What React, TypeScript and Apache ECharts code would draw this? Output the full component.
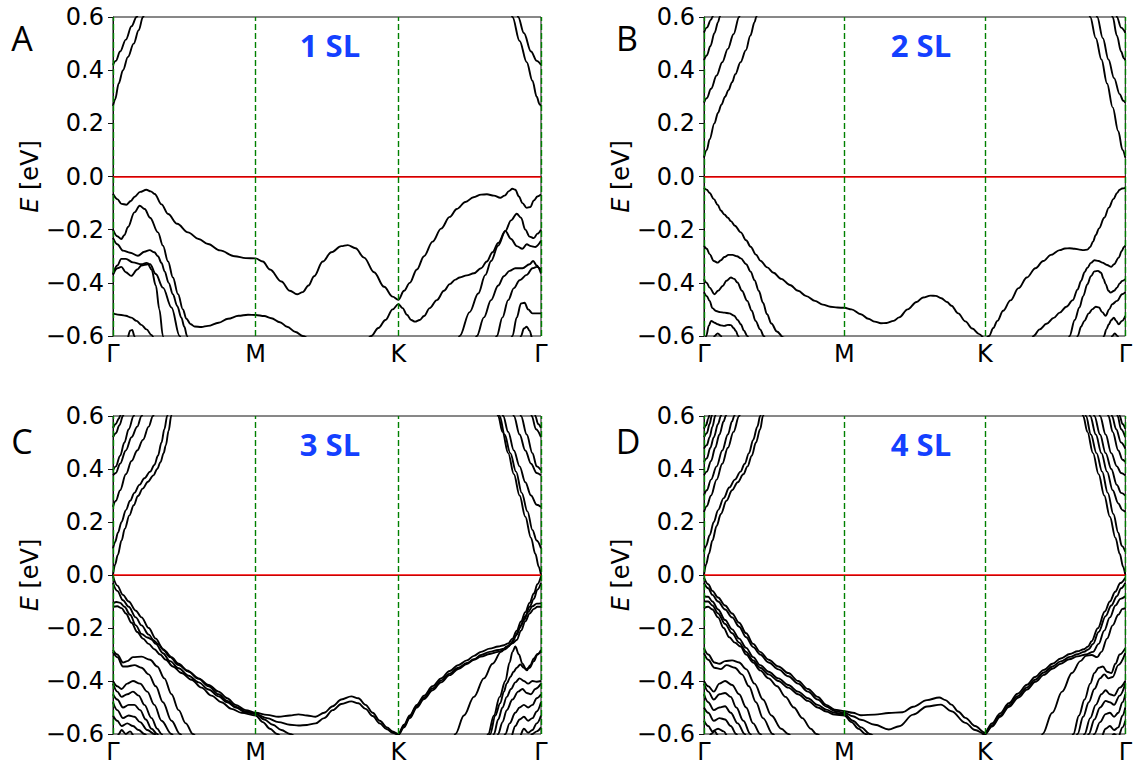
import React, { useEffect, useRef } from "react";
import * as echarts from "echarts";

type Band = number[][];

// Path Γ–M–K–Γ, one unit per segment
const kPathLabels = ["Γ", "M", "K", "Γ"];
const kSymmetryPoints = [0, 1, 2, 3];
const panelLetters = ["A", "B", "C", "D"];
const panelTitles = ["1 SL", "2 SL", "3 SL", "4 SL"];

// ---------- 1 SL ----------
const sl1Conduction: Band[] = [
  [[0, 0.265], [0.015, 0.29], [0.04, 0.35], [0.07, 0.4], [0.105, 0.45], [0.145, 0.5], [0.18, 0.55], [0.21, 0.6], [0.235, 0.64]],
  [[0, 0.42], [0.02, 0.435], [0.05, 0.47], [0.09, 0.515], [0.13, 0.565], [0.165, 0.6], [0.19, 0.63]],
  [[2.78, 0.64], [2.8, 0.6], [2.85, 0.51], [2.9, 0.43], [2.94, 0.36], [2.97, 0.3], [2.99, 0.272], [3, 0.265]],
  [[2.82, 0.64], [2.84, 0.6], [2.88, 0.54], [2.93, 0.47], [2.97, 0.435], [3, 0.42]],
];

const sl1Valence: Band[] = [
  [[0, -0.065], [0.03, -0.085], [0.06, -0.103], [0.093, -0.106], [0.125, -0.092], [0.152, -0.076], [0.19, -0.058], [0.234, -0.05], [0.265, -0.056], [0.292, -0.066], [0.34, -0.105], [0.386, -0.141], [0.45, -0.178], [0.526, -0.21], [0.6, -0.235], [0.666, -0.254], [0.75, -0.278], [0.853, -0.3], [0.93, -0.307], [1, -0.308], [1.05, -0.32], [1.1, -0.35], [1.18, -0.395], [1.24, -0.43], [1.29, -0.443], [1.33, -0.435], [1.37, -0.41], [1.41, -0.375], [1.47, -0.32], [1.53, -0.285], [1.6, -0.262], [1.645, -0.258], [1.7, -0.27], [1.76, -0.305], [1.83, -0.36], [1.9, -0.415], [1.96, -0.452], [2, -0.464], [2.04, -0.43], [2.08, -0.4], [2.13, -0.35], [2.18, -0.3], [2.24, -0.245], [2.3, -0.196], [2.36, -0.152], [2.41, -0.122], [2.47, -0.096], [2.527, -0.078], [2.58, -0.068], [2.621, -0.067], [2.67, -0.072], [2.714, -0.08], [2.745, -0.072], [2.775, -0.055], [2.8, -0.046], [2.82, -0.05], [2.845, -0.075], [2.87, -0.1], [2.9, -0.118], [2.925, -0.115], [2.95, -0.09], [2.975, -0.075], [3, -0.068]],
  [[0, -0.2], [0.03, -0.225], [0.058, -0.235], [0.08, -0.22], [0.105, -0.19], [0.15, -0.135], [0.187, -0.11], [0.222, -0.122], [0.26, -0.155], [0.315, -0.21], [0.35, -0.26], [0.386, -0.32], [0.42, -0.38], [0.456, -0.443], [0.49, -0.5], [0.514, -0.535], [0.545, -0.556], [0.572, -0.564], [0.62, -0.566], [0.666, -0.562], [0.74, -0.55], [0.806, -0.535], [0.88, -0.524], [0.946, -0.52], [1, -0.521], [1.06, -0.525], [1.11, -0.533], [1.17, -0.548], [1.22, -0.565], [1.28, -0.585], [1.33, -0.6], [1.4, -0.62], [1.5, -0.64], [1.6, -0.65], [1.7, -0.64], [1.76, -0.625], [1.81, -0.6], [1.86, -0.57], [1.91, -0.54], [1.96, -0.5], [2, -0.48], [2.03, -0.495], [2.06, -0.52], [2.09, -0.54], [2.117, -0.546], [2.15, -0.54], [2.18, -0.525], [2.22, -0.495], [2.27, -0.465], [2.32, -0.43], [2.36, -0.405], [2.4, -0.388], [2.43, -0.38], [2.48, -0.372], [2.53, -0.364], [2.58, -0.345], [2.62, -0.32], [2.66, -0.285], [2.7, -0.25], [2.75, -0.205], [2.79, -0.165], [2.83, -0.14], [2.86, -0.155], [2.89, -0.2], [2.92, -0.226], [2.95, -0.232], [2.975, -0.215], [3, -0.2]],
  [[2.4, -0.65], [2.43, -0.6], [2.5, -0.51], [2.56, -0.44], [2.61, -0.37], [2.65, -0.318], [2.7, -0.26], [2.75, -0.205], [2.79, -0.235], [2.83, -0.262], [2.87, -0.272], [2.9, -0.255], [2.93, -0.262], [2.96, -0.265], [3, -0.242]],
  [[2.52, -0.65], [2.55, -0.6], [2.6, -0.53], [2.65, -0.465], [2.7, -0.41], [2.74, -0.375], [2.78, -0.355], [2.82, -0.345], [2.87, -0.345], [2.92, -0.33], [2.945, -0.318], [2.97, -0.335], [3, -0.365]],
  [[2.66, -0.65], [2.69, -0.6], [2.73, -0.53], [2.77, -0.465], [2.81, -0.42], [2.85, -0.39], [2.9, -0.37], [2.94, -0.345], [2.97, -0.34], [3, -0.35]],
  [[2.77, -0.65], [2.8, -0.6], [2.83, -0.53], [2.86, -0.478], [2.885, -0.475], [2.91, -0.5], [2.94, -0.515], [2.97, -0.515], [3, -0.515]],
  [[2.84, -0.65], [2.86, -0.6], [2.88, -0.572], [2.9, -0.565], [2.92, -0.58], [2.94, -0.61], [2.96, -0.65]],
  [[0, -0.231], [0.03, -0.255], [0.07, -0.279], [0.12, -0.287], [0.175, -0.298], [0.22, -0.283], [0.257, -0.277], [0.29, -0.285], [0.315, -0.3], [0.34, -0.325], [0.362, -0.357], [0.39, -0.4], [0.42, -0.443], [0.45, -0.487], [0.479, -0.531], [0.5, -0.565], [0.519, -0.6], [0.535, -0.64]],
  [[0, -0.367], [0.03, -0.335], [0.058, -0.31], [0.09, -0.31], [0.14, -0.323], [0.2, -0.33], [0.235, -0.325], [0.26, -0.33], [0.3, -0.367], [0.35, -0.418], [0.41, -0.493], [0.467, -0.6], [0.49, -0.64]],
  [[0, -0.37], [0.03, -0.345], [0.058, -0.34], [0.09, -0.36], [0.128, -0.374], [0.17, -0.35], [0.199, -0.335], [0.245, -0.33], [0.27, -0.35], [0.3, -0.41], [0.325, -0.5], [0.35, -0.6], [0.36, -0.64]],
  [[0, -0.516], [0.058, -0.521], [0.09, -0.524], [0.128, -0.531], [0.165, -0.543], [0.199, -0.558], [0.235, -0.575], [0.269, -0.596], [0.3, -0.62], [0.33, -0.65]],
  [[0.08, -0.65], [0.1, -0.61], [0.12, -0.58], [0.135, -0.577], [0.15, -0.6], [0.165, -0.65]],
];

// ---------- 2 SL ----------
const sl2Conduction: Band[] = [
  [[0, 0.071], [0.02, 0.1], [0.04, 0.14], [0.074, 0.2], [0.1, 0.24], [0.124, 0.27], [0.15, 0.3], [0.174, 0.325], [0.2, 0.355], [0.223, 0.385], [0.26, 0.43], [0.298, 0.475], [0.33, 0.53], [0.36, 0.58], [0.372, 0.6], [0.39, 0.64]],
  [[0, 0.278], [0.02, 0.295], [0.05, 0.33], [0.09, 0.38], [0.13, 0.43], [0.17, 0.48], [0.21, 0.535], [0.25, 0.6], [0.27, 0.64]],
  [[0, 0.437], [0.02, 0.455], [0.045, 0.49], [0.075, 0.54], [0.1, 0.58], [0.112, 0.6], [0.125, 0.63]],
  [[0, 0.541], [0.02, 0.56], [0.05, 0.59], [0.06, 0.6], [0.075, 0.63]],
  [[2.73, 0.64], [2.75, 0.6], [2.79, 0.52], [2.83, 0.44], [2.87, 0.35], [2.91, 0.26], [2.95, 0.17], [2.98, 0.1], [3, 0.071]],
  [[2.78, 0.64], [2.8, 0.6], [2.84, 0.52], [2.88, 0.44], [2.92, 0.37], [2.96, 0.31], [2.985, 0.285], [3, 0.278]],
  [[2.89, 0.64], [2.91, 0.6], [2.94, 0.53], [2.97, 0.47], [2.99, 0.445], [3, 0.437]],
  [[2.925, 0.64], [2.94, 0.6], [2.97, 0.56], [3, 0.541]],
];

const sl2Valence: Band[] = [
  [[0, -0.043], [0.02, -0.05], [0.04, -0.062], [0.07, -0.085], [0.098, -0.107], [0.12, -0.128], [0.145, -0.143], [0.17, -0.155], [0.192, -0.168], [0.22, -0.185], [0.262, -0.21], [0.3, -0.24], [0.332, -0.264], [0.37, -0.294], [0.402, -0.317], [0.45, -0.342], [0.495, -0.362], [0.55, -0.385], [0.612, -0.408], [0.67, -0.43], [0.729, -0.45], [0.79, -0.468], [0.846, -0.482], [0.9, -0.49], [0.95, -0.493], [1, -0.494], [1.05, -0.5], [1.117, -0.518], [1.17, -0.535], [1.216, -0.546], [1.26, -0.552], [1.3, -0.551], [1.35, -0.543], [1.39, -0.53], [1.45, -0.5], [1.514, -0.472], [1.56, -0.455], [1.613, -0.448], [1.65, -0.449], [1.69, -0.458], [1.73, -0.472], [1.762, -0.486], [1.81, -0.515], [1.861, -0.545], [1.91, -0.572], [1.96, -0.593], [2, -0.61], [2.03, -0.6], [2.06, -0.57], [2.089, -0.543], [2.13, -0.505], [2.182, -0.466], [2.24, -0.42], [2.299, -0.38], [2.36, -0.345], [2.416, -0.318], [2.47, -0.295], [2.533, -0.277], [2.57, -0.271], [2.603, -0.27], [2.64, -0.272], [2.673, -0.275], [2.7, -0.277], [2.73, -0.275], [2.75, -0.265], [2.77, -0.245], [2.79, -0.22], [2.813, -0.195], [2.85, -0.155], [2.883, -0.117], [2.915, -0.085], [2.941, -0.062], [2.96, -0.05], [2.977, -0.045], [3, -0.043]],
  [[0, -0.26], [0.02, -0.272], [0.04, -0.292], [0.07, -0.318], [0.098, -0.324], [0.12, -0.315], [0.145, -0.303], [0.175, -0.295], [0.203, -0.295], [0.235, -0.3], [0.262, -0.308], [0.3, -0.33], [0.332, -0.358], [0.36, -0.39], [0.39, -0.43], [0.42, -0.475], [0.449, -0.518], [0.48, -0.553], [0.519, -0.583], [0.565, -0.605], [0.6, -0.63]],
  [[0, -0.386], [0.02, -0.4], [0.04, -0.418], [0.075, -0.443], [0.1, -0.43], [0.133, -0.412], [0.16, -0.392], [0.192, -0.38], [0.215, -0.385], [0.238, -0.399], [0.27, -0.43], [0.308, -0.468], [0.34, -0.505], [0.367, -0.543], [0.4, -0.575], [0.425, -0.6], [0.45, -0.63]],
  [[0, -0.435], [0.02, -0.45], [0.04, -0.468], [0.06, -0.495], [0.086, -0.506], [0.115, -0.51], [0.145, -0.512], [0.18, -0.515], [0.215, -0.524], [0.24, -0.54], [0.262, -0.556], [0.285, -0.58], [0.308, -0.6], [0.33, -0.63]],
  [[0, -0.64], [0.016, -0.6], [0.035, -0.56], [0.051, -0.543], [0.075, -0.55], [0.098, -0.556], [0.12, -0.56], [0.145, -0.562], [0.17, -0.558], [0.192, -0.559], [0.21, -0.57], [0.227, -0.581], [0.243, -0.6], [0.26, -0.63]],
  [[0.06, -0.63], [0.075, -0.6], [0.098, -0.59], [0.121, -0.6], [0.135, -0.63]],
  [[2.32, -0.64], [2.346, -0.6], [2.39, -0.575], [2.439, -0.554], [2.49, -0.532], [2.533, -0.512], [2.58, -0.49], [2.626, -0.465], [2.66, -0.425], [2.685, -0.393], [2.71, -0.36], [2.73, -0.343], [2.755, -0.325], [2.78, -0.315], [2.81, -0.318], [2.836, -0.324], [2.87, -0.333], [2.9, -0.34], [2.92, -0.33], [2.953, -0.305], [2.975, -0.28], [2.99, -0.265], [3, -0.26]],
  [[2.58, -0.65], [2.603, -0.6], [2.64, -0.54], [2.673, -0.493], [2.7, -0.45], [2.73, -0.405], [2.755, -0.375], [2.78, -0.357], [2.805, -0.355], [2.827, -0.362], [2.845, -0.385], [2.86, -0.405], [2.88, -0.43], [2.895, -0.437], [2.92, -0.43], [2.941, -0.418], [2.96, -0.402], [2.977, -0.393], [3, -0.386]],
  [[2.64, -0.65], [2.661, -0.6], [2.685, -0.565], [2.708, -0.543], [2.74, -0.515], [2.766, -0.499], [2.79, -0.49], [2.813, -0.493], [2.835, -0.51], [2.86, -0.524], [2.885, -0.5], [2.907, -0.48], [2.941, -0.468], [2.977, -0.443], [3, -0.435]],
  [[2.83, -0.64], [2.848, -0.6], [2.865, -0.575], [2.883, -0.556], [2.9, -0.54], [2.918, -0.531], [2.935, -0.543], [2.953, -0.556], [2.977, -0.543], [3, -0.524]],
  [[2.89, -0.63], [2.907, -0.6], [2.925, -0.59], [2.945, -0.6], [2.96, -0.63]],
];

// ---------- 3 SL ----------
const sl3Conduction: Band[] = [
  [[0, 0], [0.015, 0.04], [0.033, 0.075], [0.06, 0.13], [0.083, 0.175], [0.115, 0.225], [0.145, 0.263], [0.175, 0.298], [0.208, 0.326], [0.245, 0.352], [0.283, 0.376], [0.31, 0.4], [0.333, 0.426], [0.355, 0.46], [0.37, 0.489], [0.39, 0.545], [0.408, 0.6], [0.42, 0.64]],
  [[0, 0.1], [0.015, 0.125], [0.035, 0.16], [0.06, 0.2], [0.09, 0.245], [0.12, 0.28], [0.15, 0.31], [0.185, 0.34], [0.22, 0.365], [0.26, 0.39], [0.29, 0.415], [0.315, 0.45], [0.34, 0.5], [0.36, 0.55], [0.38, 0.6], [0.395, 0.64]],
  [[0, 0.257], [0.02, 0.28], [0.05, 0.32], [0.09, 0.38], [0.13, 0.43], [0.17, 0.47], [0.21, 0.51], [0.25, 0.56], [0.28, 0.6], [0.3, 0.63]],
  [[0, 0.376], [0.02, 0.385], [0.05, 0.42], [0.09, 0.47], [0.13, 0.52], [0.17, 0.56], [0.2, 0.6], [0.22, 0.63]],
  [[0, 0.395], [0.02, 0.41], [0.05, 0.45], [0.08, 0.5], [0.11, 0.55], [0.145, 0.6], [0.16, 0.63]],
  [[0, 0.52], [0.02, 0.535], [0.045, 0.565], [0.07, 0.6], [0.085, 0.63]],
  [[0, 0.555], [0.02, 0.57], [0.04, 0.59], [0.05, 0.6], [0.065, 0.63]],
  [[2.68, 0.64], [2.7, 0.6], [2.73, 0.54], [2.77, 0.46], [2.81, 0.38], [2.85, 0.3], [2.89, 0.22], [2.93, 0.14], [2.96, 0.08], [2.985, 0.03], [3, 0]],
  [[2.69, 0.64], [2.71, 0.6], [2.745, 0.53], [2.785, 0.46], [2.825, 0.39], [2.865, 0.31], [2.905, 0.24], [2.94, 0.17], [2.97, 0.13], [3, 0.1]],
  [[2.715, 0.64], [2.735, 0.6], [2.77, 0.54], [2.81, 0.47], [2.85, 0.41], [2.89, 0.35], [2.93, 0.3], [2.97, 0.265], [3, 0.257]],
  [[2.79, 0.64], [2.81, 0.6], [2.85, 0.53], [2.89, 0.47], [2.93, 0.42], [2.97, 0.385], [3, 0.376]],
  [[2.84, 0.64], [2.86, 0.6], [2.9, 0.53], [2.94, 0.46], [2.97, 0.41], [3, 0.395]],
  [[2.92, 0.64], [2.935, 0.6], [2.965, 0.55], [3, 0.52]],
  [[2.95, 0.64], [2.96, 0.6], [2.98, 0.57], [3, 0.555]],
];

const sl3Valence: Band[] = [
  [[0, -0.005], [0.03, -0.04], [0.07, -0.075], [0.11, -0.1], [0.16, -0.135], [0.2, -0.16], [0.25, -0.2], [0.3, -0.24], [0.35, -0.28], [0.4, -0.31], [0.46, -0.34], [0.53, -0.365], [0.6, -0.39], [0.67, -0.415], [0.74, -0.44], [0.8, -0.465], [0.86, -0.49], [0.93, -0.51], [1, -0.52], [1.08, -0.528], [1.16, -0.535], [1.24, -0.53], [1.3, -0.526], [1.36, -0.53], [1.42, -0.535], [1.48, -0.52], [1.54, -0.495], [1.6, -0.47], [1.67, -0.458], [1.72, -0.465], [1.77, -0.49], [1.82, -0.52], [1.87, -0.55], [1.92, -0.575], [1.96, -0.59], [2, -0.6], [2.04, -0.565], [2.08, -0.53], [2.13, -0.49], [2.18, -0.455], [2.24, -0.42], [2.3, -0.39], [2.36, -0.362], [2.42, -0.34], [2.48, -0.322], [2.53, -0.305], [2.58, -0.29], [2.64, -0.278], [2.7, -0.27], [2.74, -0.265], [2.77, -0.258], [2.8, -0.24], [2.83, -0.21], [2.86, -0.175], [2.89, -0.14], [2.92, -0.105], [2.95, -0.07], [2.975, -0.035], [3, -0.005]],
  [[0, -0.03], [0.03, -0.06], [0.07, -0.095], [0.11, -0.12], [0.16, -0.16], [0.2, -0.19], [0.25, -0.225], [0.3, -0.26], [0.35, -0.295], [0.4, -0.325], [0.46, -0.352], [0.53, -0.38], [0.6, -0.405], [0.67, -0.432], [0.74, -0.458], [0.8, -0.48], [0.86, -0.5], [0.93, -0.518], [1, -0.525], [1.08, -0.54], [1.16, -0.555], [1.24, -0.565], [1.3, -0.568], [1.36, -0.566], [1.42, -0.56], [1.48, -0.54], [1.54, -0.51], [1.6, -0.487], [1.67, -0.477], [1.72, -0.484], [1.77, -0.505], [1.82, -0.532], [1.87, -0.56], [1.92, -0.582], [1.96, -0.595], [2, -0.602], [2.04, -0.57], [2.08, -0.535], [2.13, -0.495], [2.18, -0.462], [2.24, -0.428], [2.3, -0.398], [2.36, -0.372], [2.42, -0.35], [2.48, -0.332], [2.53, -0.318], [2.58, -0.302], [2.64, -0.29], [2.7, -0.283], [2.74, -0.278], [2.77, -0.27], [2.8, -0.252], [2.83, -0.225], [2.86, -0.19], [2.89, -0.155], [2.92, -0.12], [2.95, -0.09], [2.975, -0.055], [3, -0.03]],
  [[0, -0.107], [0.025, -0.102], [0.05, -0.105], [0.08, -0.12], [0.12, -0.15], [0.16, -0.19], [0.2, -0.222], [0.24, -0.236], [0.28, -0.245], [0.32, -0.262], [0.36, -0.285], [0.41, -0.31], [0.46, -0.335], [0.52, -0.36], [0.6, -0.392], [0.67, -0.42], [0.74, -0.45], [0.8, -0.475], [0.86, -0.497], [0.93, -0.515], [1, -0.523], [1.06, -0.545], [1.12, -0.565], [1.18, -0.585], [1.24, -0.6], [1.3, -0.615], [1.4, -0.63], [1.5, -0.64], [1.6, -0.645], [1.7, -0.645], [1.8, -0.635], [1.9, -0.62], [1.96, -0.61], [2, -0.603], [2.04, -0.575], [2.08, -0.54], [2.13, -0.5], [2.18, -0.468], [2.24, -0.435], [2.3, -0.405], [2.36, -0.378], [2.42, -0.355], [2.48, -0.336], [2.53, -0.32], [2.58, -0.308], [2.64, -0.298], [2.7, -0.29], [2.75, -0.28], [2.79, -0.26], [2.82, -0.23], [2.85, -0.2], [2.88, -0.17], [2.91, -0.14], [2.94, -0.118], [2.97, -0.108], [3, -0.107]],
  [[0, -0.12], [0.03, -0.118], [0.06, -0.125], [0.09, -0.145], [0.13, -0.18], [0.17, -0.215], [0.21, -0.24], [0.25, -0.26], [0.29, -0.28], [0.33, -0.3], [0.37, -0.32], [0.42, -0.345], [0.48, -0.37], [0.55, -0.395], [0.62, -0.425], [0.69, -0.455], [0.76, -0.48], [0.83, -0.505], [0.9, -0.52], [1, -0.53], [1.05, -0.555], [1.1, -0.58], [1.15, -0.6], [1.2, -0.62], [1.25, -0.64]],
  [[2.37, -0.65], [2.4, -0.6], [2.46, -0.53], [2.53, -0.46], [2.6, -0.39], [2.66, -0.335], [2.72, -0.29], [2.76, -0.27], [2.8, -0.258], [2.83, -0.245], [2.86, -0.21], [2.89, -0.175], [2.92, -0.145], [2.95, -0.128], [2.975, -0.12], [3, -0.12]],
  [[2.6, -0.65], [2.63, -0.6], [2.67, -0.53], [2.71, -0.46], [2.75, -0.4], [2.78, -0.33], [2.8, -0.29], [2.82, -0.27], [2.845, -0.3], [2.87, -0.335], [2.895, -0.355], [2.92, -0.35], [2.95, -0.325], [2.975, -0.3], [3, -0.283]],
  [[2.62, -0.65], [2.644, -0.6], [2.68, -0.53], [2.714, -0.484], [2.74, -0.44], [2.76, -0.409], [2.785, -0.385], [2.808, -0.365], [2.83, -0.35], [2.855, -0.338], [2.88, -0.35], [2.9, -0.36], [2.925, -0.34], [2.95, -0.315], [2.975, -0.298], [3, -0.29]],
  [[2.65, -0.65], [2.67, -0.6], [2.7, -0.545], [2.73, -0.5], [2.76, -0.46], [2.79, -0.43], [2.82, -0.405], [2.85, -0.39], [2.88, -0.4], [2.91, -0.41], [2.94, -0.4], [2.97, -0.403], [3, -0.4]],
  [[2.68, -0.65], [2.7, -0.6], [2.73, -0.555], [2.76, -0.51], [2.8, -0.47], [2.84, -0.44], [2.87, -0.43], [2.9, -0.445], [2.93, -0.45], [2.96, -0.43], [3, -0.41]],
  [[2.72, -0.65], [2.75, -0.6], [2.78, -0.56], [2.82, -0.52], [2.85, -0.5], [2.88, -0.49], [2.91, -0.5], [2.94, -0.49], [2.97, -0.465], [3, -0.45]],
  [[2.76, -0.65], [2.79, -0.61], [2.82, -0.57], [2.85, -0.545], [2.88, -0.535], [2.91, -0.55], [2.94, -0.54], [2.97, -0.515], [3, -0.48]],
  [[2.82, -0.65], [2.85, -0.61], [2.88, -0.58], [2.91, -0.595], [2.94, -0.585], [2.97, -0.56], [3, -0.53]],
  [[2.88, -0.65], [2.91, -0.62], [2.94, -0.6], [2.97, -0.59], [3, -0.575]],
  [[0, -0.283], [0.03, -0.3], [0.07, -0.33], [0.1, -0.325], [0.14, -0.31], [0.2, -0.308], [0.26, -0.32], [0.31, -0.345], [0.36, -0.39], [0.41, -0.45], [0.46, -0.51], [0.51, -0.56], [0.56, -0.6], [0.6, -0.63]],
  [[0, -0.29], [0.03, -0.31], [0.07, -0.345], [0.1, -0.345], [0.15, -0.34], [0.2, -0.35], [0.25, -0.375], [0.3, -0.42], [0.35, -0.48], [0.41, -0.55], [0.47, -0.6], [0.5, -0.63]],
  [[0, -0.4], [0.03, -0.42], [0.06, -0.43], [0.1, -0.41], [0.14, -0.4], [0.19, -0.41], [0.24, -0.44], [0.29, -0.49], [0.34, -0.55], [0.41, -0.6], [0.44, -0.63]],
  [[0, -0.41], [0.03, -0.44], [0.06, -0.46], [0.1, -0.45], [0.14, -0.44], [0.18, -0.455], [0.22, -0.49], [0.27, -0.54], [0.31, -0.58], [0.34, -0.6], [0.36, -0.63]],
  [[0, -0.45], [0.03, -0.47], [0.07, -0.5], [0.11, -0.49], [0.15, -0.49], [0.19, -0.51], [0.23, -0.545], [0.27, -0.58], [0.31, -0.6], [0.33, -0.63]],
  [[0, -0.48], [0.03, -0.51], [0.07, -0.54], [0.11, -0.53], [0.15, -0.535], [0.19, -0.555], [0.24, -0.585], [0.29, -0.6], [0.31, -0.62]],
  [[0, -0.53], [0.03, -0.55], [0.06, -0.57], [0.1, -0.56], [0.14, -0.57], [0.18, -0.585], [0.22, -0.6], [0.25, -0.62]],
  [[0.02, -0.64], [0.04, -0.6], [0.06, -0.585], [0.09, -0.6], [0.12, -0.59], [0.15, -0.61], [0.17, -0.64]],
];

// ---------- 4 SL ----------
const sl4Conduction: Band[] = [
  [[0, 0], [0.015, 0.04], [0.035, 0.08], [0.06, 0.13], [0.09, 0.185], [0.12, 0.23], [0.16, 0.28], [0.2, 0.32], [0.24, 0.35], [0.28, 0.38], [0.31, 0.41], [0.34, 0.45], [0.37, 0.5], [0.4, 0.55], [0.42, 0.6], [0.44, 0.64]],
  [[0, 0.088], [0.015, 0.11], [0.04, 0.15], [0.07, 0.2], [0.1, 0.245], [0.14, 0.29], [0.18, 0.33], [0.22, 0.36], [0.26, 0.39], [0.29, 0.42], [0.32, 0.46], [0.35, 0.51], [0.38, 0.56], [0.4, 0.6], [0.42, 0.64]],
  [[0, 0.238], [0.02, 0.26], [0.05, 0.3], [0.09, 0.36], [0.13, 0.42], [0.17, 0.48], [0.21, 0.54], [0.25, 0.6], [0.27, 0.63]],
  [[0, 0.3], [0.02, 0.32], [0.05, 0.36], [0.09, 0.41], [0.13, 0.47], [0.17, 0.53], [0.2, 0.58], [0.215, 0.6], [0.23, 0.63]],
  [[0, 0.376], [0.02, 0.39], [0.05, 0.43], [0.08, 0.48], [0.11, 0.53], [0.14, 0.58], [0.155, 0.6], [0.17, 0.63]],
  [[0, 0.427], [0.02, 0.44], [0.045, 0.48], [0.07, 0.52], [0.1, 0.57], [0.12, 0.6], [0.135, 0.63]],
  [[0, 0.477], [0.02, 0.49], [0.04, 0.52], [0.06, 0.56], [0.08, 0.6], [0.09, 0.63]],
  [[0, 0.52], [0.02, 0.535], [0.04, 0.57], [0.055, 0.6], [0.065, 0.63]],
  [[0, 0.552], [0.015, 0.565], [0.03, 0.59], [0.037, 0.6], [0.05, 0.63]],
  [[2.68, 0.64], [2.7, 0.6], [2.73, 0.54], [2.77, 0.46], [2.81, 0.38], [2.85, 0.3], [2.89, 0.22], [2.93, 0.14], [2.96, 0.08], [2.985, 0.03], [3, 0]],
  [[2.7, 0.64], [2.72, 0.6], [2.755, 0.53], [2.795, 0.46], [2.835, 0.39], [2.875, 0.31], [2.915, 0.23], [2.95, 0.16], [2.975, 0.11], [3, 0.088]],
  [[2.73, 0.64], [2.75, 0.6], [2.79, 0.53], [2.83, 0.46], [2.87, 0.39], [2.91, 0.32], [2.95, 0.27], [2.98, 0.245], [3, 0.238]],
  [[2.76, 0.64], [2.78, 0.6], [2.82, 0.53], [2.86, 0.46], [2.9, 0.4], [2.94, 0.34], [2.97, 0.31], [3, 0.3]],
  [[2.8, 0.64], [2.82, 0.6], [2.86, 0.53], [2.9, 0.46], [2.94, 0.41], [2.97, 0.385], [3, 0.376]],
  [[2.86, 0.64], [2.88, 0.6], [2.91, 0.54], [2.95, 0.47], [2.98, 0.435], [3, 0.427]],
  [[2.89, 0.64], [2.905, 0.6], [2.935, 0.55], [2.97, 0.5], [3, 0.477]],
  [[2.93, 0.64], [2.945, 0.6], [2.97, 0.55], [3, 0.52]],
  [[2.95, 0.64], [2.96, 0.6], [2.98, 0.57], [3, 0.552]],
];

const sl4Valence: Band[] = [
  [[0, -0.01], [0.03, -0.035], [0.06, -0.06], [0.1, -0.085], [0.15, -0.115], [0.2, -0.145], [0.25, -0.18], [0.3, -0.22], [0.35, -0.26], [0.4, -0.29], [0.46, -0.32], [0.53, -0.345], [0.6, -0.37], [0.67, -0.4], [0.74, -0.43], [0.81, -0.46], [0.87, -0.49], [0.93, -0.508], [1, -0.514], [1.06, -0.52], [1.117, -0.529], [1.216, -0.527], [1.315, -0.521], [1.414, -0.518], [1.489, -0.497], [1.588, -0.472], [1.675, -0.462], [1.72, -0.472], [1.762, -0.489], [1.81, -0.515], [1.861, -0.539], [1.93, -0.57], [2, -0.595], [2.05, -0.56], [2.109, -0.522], [2.17, -0.484], [2.233, -0.448], [2.3, -0.414], [2.357, -0.385], [2.42, -0.358], [2.481, -0.335], [2.54, -0.315], [2.605, -0.298], [2.66, -0.288], [2.705, -0.28], [2.735, -0.27], [2.76, -0.25], [2.804, -0.201], [2.854, -0.138], [2.89, -0.1], [2.928, -0.063], [2.965, -0.03], [3, -0.01]],
  [[0, -0.03], [0.03, -0.05], [0.06, -0.075], [0.1, -0.1], [0.15, -0.13], [0.2, -0.16], [0.25, -0.195], [0.3, -0.235], [0.35, -0.272], [0.4, -0.3], [0.46, -0.33], [0.53, -0.356], [0.6, -0.382], [0.67, -0.41], [0.74, -0.44], [0.81, -0.47], [0.87, -0.496], [0.93, -0.513], [1, -0.52], [1.06, -0.533], [1.117, -0.546], [1.216, -0.565], [1.315, -0.583], [1.39, -0.571], [1.489, -0.527], [1.588, -0.496], [1.687, -0.489], [1.762, -0.514], [1.861, -0.558], [1.93, -0.585], [2, -0.6], [2.05, -0.567], [2.109, -0.53], [2.17, -0.492], [2.233, -0.457], [2.3, -0.424], [2.357, -0.395], [2.42, -0.368], [2.481, -0.345], [2.54, -0.326], [2.605, -0.309], [2.66, -0.299], [2.705, -0.29], [2.74, -0.28], [2.77, -0.26], [2.81, -0.215], [2.86, -0.155], [2.9, -0.115], [2.94, -0.08], [2.97, -0.05], [3, -0.03]],
  [[0, -0.08], [0.03, -0.082], [0.06, -0.1], [0.1, -0.13], [0.15, -0.17], [0.2, -0.205], [0.25, -0.24], [0.3, -0.275], [0.35, -0.31], [0.4, -0.34], [0.46, -0.365], [0.53, -0.39], [0.6, -0.415], [0.67, -0.44], [0.74, -0.465], [0.81, -0.49], [0.87, -0.508], [0.93, -0.52], [1, -0.525], [1.06, -0.55], [1.12, -0.575], [1.18, -0.6], [1.25, -0.625], [1.35, -0.645], [1.5, -0.65], [1.65, -0.65], [1.8, -0.64], [1.9, -0.625], [1.96, -0.61], [2, -0.602], [2.05, -0.572], [2.11, -0.535], [2.17, -0.498], [2.24, -0.462], [2.3, -0.432], [2.36, -0.403], [2.42, -0.377], [2.48, -0.354], [2.54, -0.335], [2.6, -0.318], [2.66, -0.307], [2.72, -0.3], [2.77, -0.29], [2.81, -0.26], [2.85, -0.21], [2.89, -0.16], [2.93, -0.115], [2.965, -0.09], [3, -0.08]],
  [[0, -0.1], [0.03, -0.1], [0.06, -0.115], [0.1, -0.145], [0.15, -0.185], [0.2, -0.22], [0.25, -0.255], [0.3, -0.29], [0.35, -0.322], [0.4, -0.35], [0.46, -0.375], [0.53, -0.4], [0.6, -0.425], [0.67, -0.45], [0.74, -0.475], [0.81, -0.5], [0.87, -0.515], [0.93, -0.527], [1, -0.53], [1.05, -0.555], [1.1, -0.58], [1.15, -0.6], [1.2, -0.625], [1.25, -0.645]],
  [[0, -0.125], [0.03, -0.12], [0.06, -0.13], [0.1, -0.16], [0.14, -0.2], [0.18, -0.235], [0.22, -0.255], [0.26, -0.27], [0.3, -0.3], [0.35, -0.33], [0.4, -0.36], [0.46, -0.39], [0.52, -0.42], [0.58, -0.46], [0.64, -0.5], [0.7, -0.54], [0.76, -0.58], [0.8, -0.6], [0.86, -0.63]],
  [[2.39, -0.65], [2.41, -0.6], [2.48, -0.52], [2.55, -0.44], [2.62, -0.37], [2.68, -0.325], [2.72, -0.305], [2.76, -0.302], [2.8, -0.31], [2.83, -0.29], [2.87, -0.24], [2.91, -0.19], [2.95, -0.15], [2.98, -0.128], [3, -0.125]],
  [[2.6, -0.65], [2.63, -0.6], [2.67, -0.53], [2.71, -0.47], [2.75, -0.41], [2.78, -0.37], [2.81, -0.35], [2.84, -0.345], [2.87, -0.365], [2.9, -0.37], [2.93, -0.335], [2.96, -0.3], [3, -0.276]],
  [[2.63, -0.65], [2.66, -0.6], [2.7, -0.535], [2.74, -0.48], [2.78, -0.43], [2.82, -0.39], [2.85, -0.375], [2.88, -0.39], [2.91, -0.385], [2.95, -0.34], [3, -0.295]],
  [[2.68, -0.65], [2.71, -0.6], [2.75, -0.54], [2.79, -0.49], [2.83, -0.45], [2.86, -0.435], [2.89, -0.45], [2.92, -0.455], [2.96, -0.425], [3, -0.4]],
  [[2.71, -0.65], [2.74, -0.6], [2.78, -0.545], [2.82, -0.5], [2.86, -0.475], [2.89, -0.48], [2.92, -0.49], [2.96, -0.455], [3, -0.41]],
  [[2.75, -0.65], [2.78, -0.6], [2.82, -0.555], [2.86, -0.525], [2.89, -0.52], [2.92, -0.535], [2.95, -0.52], [2.98, -0.48], [3, -0.45]],
  [[2.8, -0.65], [2.83, -0.61], [2.86, -0.58], [2.89, -0.57], [2.92, -0.585], [2.95, -0.575], [2.98, -0.53], [3, -0.5]],
  [[2.86, -0.65], [2.89, -0.615], [2.92, -0.6], [2.95, -0.61], [2.98, -0.575], [3, -0.55]],
  [[0, -0.276], [0.03, -0.3], [0.074, -0.33], [0.11, -0.335], [0.15, -0.325], [0.2, -0.322], [0.25, -0.33], [0.3, -0.355], [0.36, -0.41], [0.42, -0.47], [0.48, -0.53], [0.55, -0.58], [0.6, -0.6], [0.64, -0.63]],
  [[0, -0.295], [0.03, -0.32], [0.074, -0.35], [0.12, -0.355], [0.16, -0.34], [0.22, -0.35], [0.27, -0.375], [0.32, -0.42], [0.37, -0.48], [0.42, -0.54], [0.49, -0.6], [0.52, -0.63]],
  [[0, -0.4], [0.03, -0.42], [0.07, -0.44], [0.11, -0.41], [0.15, -0.4], [0.2, -0.415], [0.25, -0.45], [0.3, -0.5], [0.35, -0.56], [0.4, -0.6], [0.43, -0.63]],
  [[0, -0.41], [0.03, -0.44], [0.07, -0.47], [0.11, -0.45], [0.15, -0.445], [0.19, -0.46], [0.23, -0.5], [0.28, -0.55], [0.33, -0.6], [0.35, -0.63]],
  [[0, -0.45], [0.03, -0.48], [0.07, -0.51], [0.11, -0.5], [0.15, -0.495], [0.19, -0.52], [0.24, -0.56], [0.29, -0.6], [0.31, -0.63]],
  [[0, -0.5], [0.03, -0.52], [0.07, -0.55], [0.11, -0.54], [0.15, -0.545], [0.19, -0.57], [0.23, -0.6], [0.25, -0.63]],
  [[0, -0.55], [0.03, -0.57], [0.06, -0.59], [0.1, -0.58], [0.14, -0.59], [0.17, -0.61], [0.19, -0.64]],
  [[0.02, -0.64], [0.05, -0.6], [0.075, -0.59], [0.1, -0.605], [0.12, -0.64]],
];

const panelBands: Band[][] = [
  [...sl1Conduction, ...sl1Valence],
  [...sl2Conduction, ...sl2Valence],
  [...sl3Conduction, ...sl3Valence],
  [...sl4Conduction, ...sl4Valence],
];

const gridBoxes = [
  { left: 113, top: 17, width: 428, height: 319 },
  { left: 704, top: 17, width: 428, height: 319 },
  { left: 113, top: 416, width: 428, height: 318 },
  { left: 704, top: 416, width: 428, height: 318 },
];

const letterPos = [
  [22, 38],
  [627, 38],
  [22, 441],
  [628, 441],
];
const titlePos = [
  [330, 45],
  [921, 45],
  [330, 444],
  [921, 444],
];

const TICK_FONT = "DejaVu Sans";

function fmtEnergy(v: number): string {
  if (Math.abs(v) < 1e-9) return "0.0";
  const s = Math.abs(v).toFixed(1);
  return v < 0 ? "\u2212" + s : s;
}

function buildOption(): echarts.EChartsOption {
  const grid = gridBoxes.map((g) => ({
    ...g,
    show: true,
    borderColor: "#111",
    borderWidth: 1,
    backgroundColor: "transparent",
  }));

  const xAxis = gridBoxes.map((_, i) => ({
    type: "value" as const,
    gridIndex: i,
    min: 0,
    max: 3,
    interval: 1,
    axisLine: { show: true, lineStyle: { color: "#111", width: 1 } },
    axisTick: { show: true, length: 5, lineStyle: { color: "#111" } },
    axisLabel: {
      color: "#000",
      fontSize: 24,
      fontFamily: TICK_FONT,
      margin: 6,
      formatter: (v: number) => kPathLabels[kSymmetryPoints.indexOf(Math.round(v))] ?? "",
    },
    splitLine: { show: false },
  }));

  const yAxis = gridBoxes.map((_, i) => ({
    type: "value" as const,
    gridIndex: i,
    min: -0.6,
    max: 0.6,
    interval: 0.2,
    name: "{i|E} [eV]",
    nameLocation: "middle" as const,
    nameGap: 42,
    nameTextStyle: {
      color: "#000",
      fontSize: 24,
      fontFamily: TICK_FONT,
      rich: { i: { fontStyle: "italic", fontSize: 24, fontFamily: TICK_FONT, color: "#000" } },
    },
    axisLine: { show: true, lineStyle: { color: "#111", width: 1 } },
    axisTick: { show: true, length: 5, lineStyle: { color: "#111" } },
    axisLabel: {
      color: "#000",
      fontSize: 24,
      fontFamily: TICK_FONT,
      margin: 9,
      formatter: (v: number) => fmtEnergy(v),
    },
    splitLine: { show: false },
  }));

  const series: any[] = [];
  panelBands.forEach((bands, i) => {
    // Fermi level and high-symmetry markers
    series.push({
      type: "line",
      xAxisIndex: i,
      yAxisIndex: i,
      data: [[0, 0]],
      showSymbol: false,
      lineStyle: { width: 0 },
      silent: true,
      z: 2,
      markLine: {
        silent: true,
        symbol: ["none", "none"],
        label: { show: false },
        animation: false,
        data: [
          { yAxis: 0, lineStyle: { color: "#ff0000", width: 1.6, type: "solid" } },
          ...kSymmetryPoints.map((k) => ({
            xAxis: k,
            lineStyle: { color: "#008000", width: 1.4, type: [6, 3] },
          })),
        ],
      },
    });
    bands.forEach((band) => {
      series.push({
        type: "line",
        xAxisIndex: i,
        yAxisIndex: i,
        data: band,
        smooth: 0.35,
        smoothMonotone: "x",
        showSymbol: false,
        symbol: "none",
        clip: true,
        silent: true,
        z: 3,
        lineStyle: { color: "#000", width: 1.9 },
      });
    });
  });

  const graphic: any[] = [];
  panelLetters.forEach((t, i) => {
    graphic.push({
      type: "text",
      x: letterPos[i][0],
      y: letterPos[i][1],
      style: {
        text: t,
        fill: "#000",
        font: "34px 'Open Sans', sans-serif",
        textAlign: "center",
        textVerticalAlign: "middle",
      },
    });
  });
  panelTitles.forEach((t, i) => {
    graphic.push({
      type: "text",
      x: titlePos[i][0],
      y: titlePos[i][1],
      style: {
        text: t,
        fill: "#1440ff",
        font: "bold 31px 'Open Sans', sans-serif",
        textAlign: "center",
        textVerticalAlign: "middle",
      },
    });
  });

  return {
    animation: false,
    backgroundColor: "#fff",
    grid,
    xAxis,
    yAxis,
    series,
    graphic,
  } as echarts.EChartsOption;
}

export default function App() {
  const ref = useRef<HTMLDivElement>(null);
  useEffect(() => {
    if (!ref.current) return;
    const chart = echarts.init(ref.current, undefined, { renderer: "svg" });
    chart.setOption(buildOption());
    return () => chart.dispose();
  }, []);
  return (
    <div
      ref={ref}
      style={{ position: "absolute", left: 0, top: 0, width: 1135, height: 765, background: "#fff" }}
    />
  );
}
